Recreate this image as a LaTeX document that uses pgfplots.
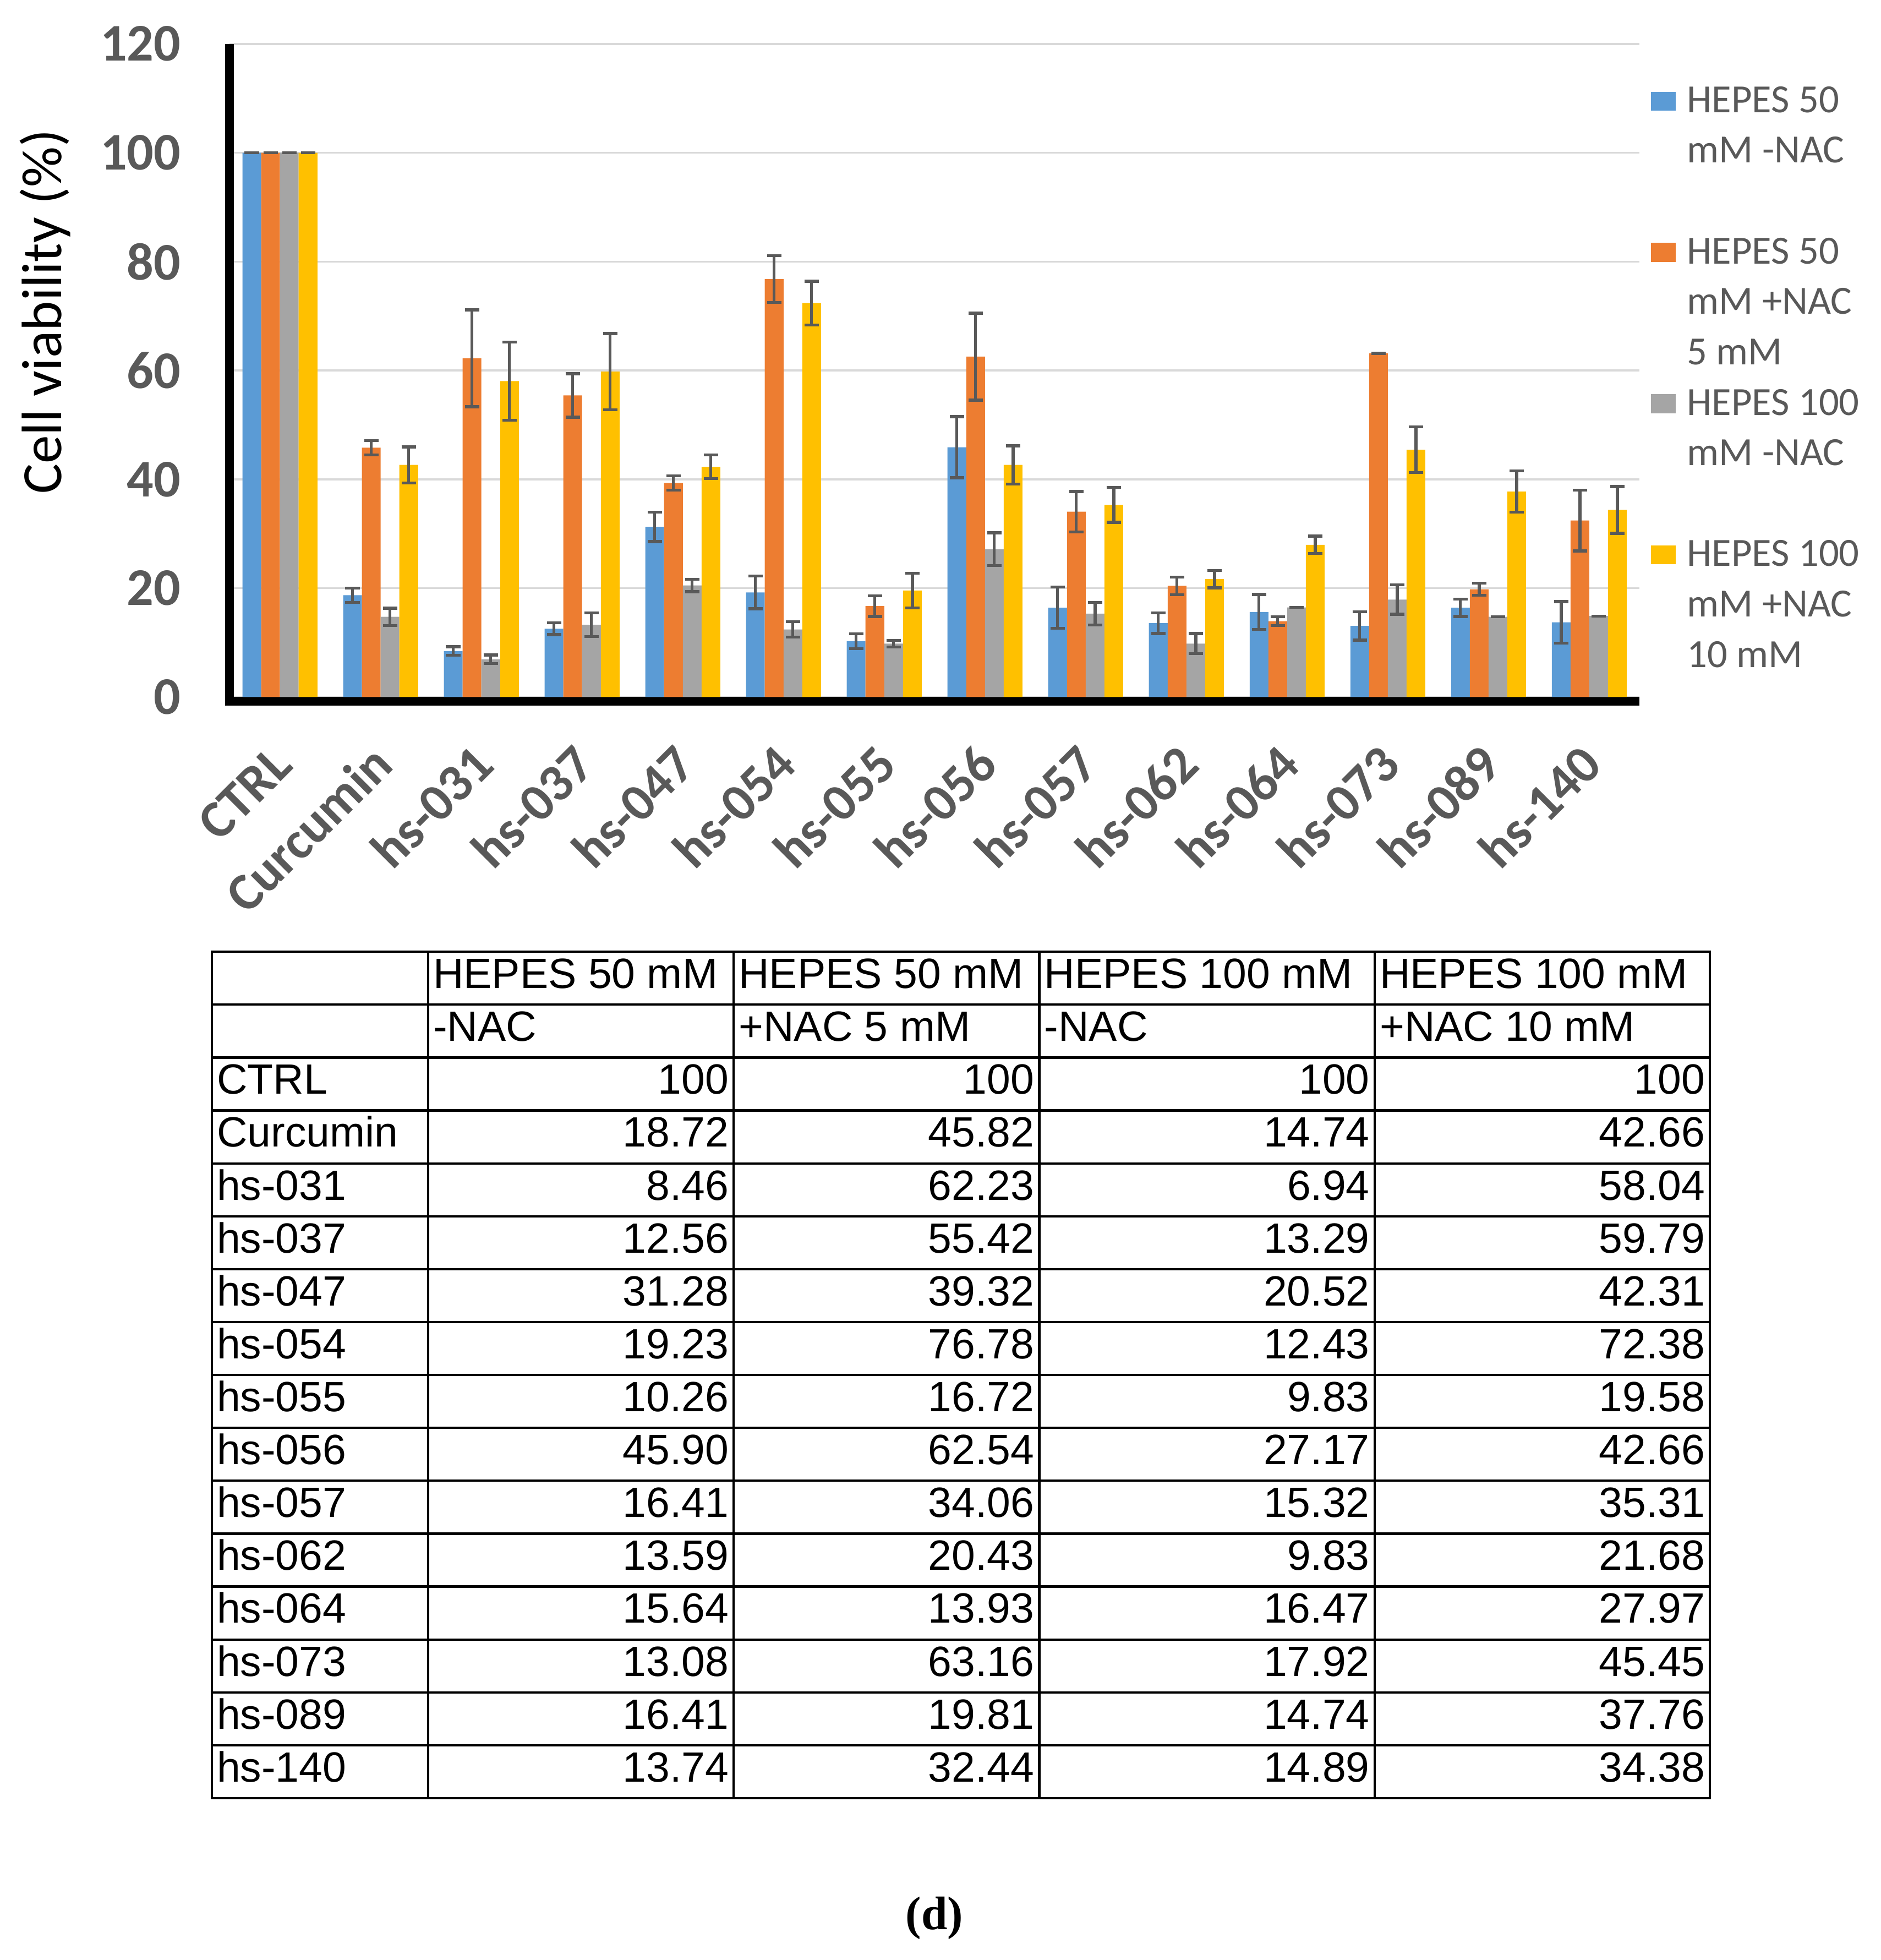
\documentclass[border=0pt]{standalone}
\usepackage{pgfplots}
\usepackage{pgfplotstable}
\usepackage{array}
\usepackage{fontspec}
\pgfplotsset{compat=1.18}
\setmainfont{Carlito}
\newfontfamily\tablefont{Liberation Sans}
\newfontfamily\capfont{Liberation Serif}
\definecolor{cblue}{HTML}{5B9BD5}
\definecolor{corange}{HTML}{ED7D31}
\definecolor{cgray}{HTML}{A5A5A5}
\definecolor{cyellow}{HTML}{FFC000}
\definecolor{tickgray}{HTML}{595959}
\definecolor{gridgray}{HTML}{D9D9D9}
\definecolor{errgray}{HTML}{595959}

\pgfplotstableread{
name a b c d ea eb ec ed
CTRL 100 100 100 100 0 0 0 0
Curcumin 18.72 45.82 14.74 42.66 1.3 1.3 1.6 3.3
hs-031 8.46 62.23 6.94 58.04 0.8 8.9 0.8 7.2
hs-037 12.56 55.42 13.29 59.79 1.1 4.0 2.2 7.0
hs-047 31.28 39.32 20.52 42.31 2.7 1.3 1.15 2.2
hs-054 19.23 76.78 12.43 72.38 3.0 4.3 1.4 4.0
hs-055 10.26 16.72 9.83 19.58 1.35 1.9 0.6 3.2
hs-056 45.90 62.54 27.17 42.66 5.6 8.0 3.0 3.5
hs-057 16.41 34.06 15.32 35.31 3.8 3.7 2.1 3.2
hs-062 13.59 20.43 9.83 21.68 1.9 1.6 1.85 1.6
hs-064 15.64 13.93 16.47 27.97 3.2 0.8 0 1.6
hs-073 13.08 63.16 17.92 45.45 2.6 0 2.7 4.2
hs-089 16.41 19.81 14.74 37.76 1.6 1.1 0 3.8
hs-140 13.74 32.44 14.89 34.38 3.8 5.6 0 4.3
}\datatable

\pgfplotsset{
  swatch/.style={legend image code/.code={%
    \fill[#1, draw=none] (0pt,0.5pt) rectangle (6.3pt,5.3pt);
    \path[draw=none, fill=none] (0pt,0pt) -- (9.2pt,0pt);}},
  noswatch/.style={legend image code/.code={\path[draw=none, fill=none] (0pt,0pt) -- (9.2pt,0pt);}},
}

\begin{document}
\begin{tikzpicture}
\useasboundingbox (-58.6pt,-322.3pt) rectangle (421.4pt,177.9pt);
\begin{axis}[
  at={(0pt,0pt)}, anchor=south west,
  width=359.9pt, height=166.7pt, scale only axis,
  ybar=0pt, bar width=0.186,
  xmin=-0.5, xmax=13.5, ymin=0, ymax=120,
  ytick={0,20,...,120},
  xtick={0,...,13},
  xticklabels from table={\datatable}{name},
  axis x line*=bottom, axis y line*=left,
  x axis line style={-, line width=2.2pt, black, yshift=-1.1pt, shorten <=-1.1pt},
  y axis line style={-, line width=2.2pt, black},
  major tick length=0pt,
  ymajorgrids, grid style={draw=gridgray, line width=0.5pt},
  /pgf/number format/assume math mode=true,
  yticklabel style={font=\fontsize{13.5}{16}\selectfont\bfseries, text=tickgray, anchor=east, inner sep=0pt, xshift=-12.3pt},
  xticklabel style={font=\fontsize{13.5}{16}\selectfont\bfseries, text=tickgray, xshift=3.9pt, yshift=-17.9pt, rotate=45, anchor=base east, inner sep=0pt},
  ylabel={Cell viability (\%)},
  every axis y label/.style={at={(axis description cs:-0.1306,0.59)}, rotate=90, anchor=center, font=\fontsize{14.5}{17}\selectfont},
  error bars/y dir=both, error bars/y explicit,
  error bars/error bar style={line width=0.75pt, draw=errgray},
  error bars/error mark options={rotate=90, line width=0.75pt, draw=errgray, mark size=1.85pt},
  legend style={at={(1,1)}, anchor=north west, xshift=2.9pt, yshift=-8.5pt,
    draw=none, fill=none, inner sep=0pt, outer sep=0pt, row sep=0pt, column sep=0pt,
    cells={anchor=base west, nodes={anchor=base west, inner sep=0pt, outer sep=0pt, text height=9pt, text depth=3.87pt}},
    font=\fontsize{10.2}{12.6}\selectfont, text=tickgray},
]
\addplot[fill=cblue, draw=none, bar shift=-0.279, swatch={fill=cblue}] table[x expr=\coordindex, y=a, y error=ea]{\datatable};
\addlegendentry{HEPES 50}
\addlegendimage{noswatch}
\addlegendentry{mM -NAC}
\addlegendimage{noswatch}
\addlegendentry{}
\addplot[fill=corange, draw=none, bar shift=-0.093, swatch={fill=corange}] table[x expr=\coordindex, y=b, y error=eb]{\datatable};
\addlegendentry{HEPES 50}
\addlegendimage{noswatch}
\addlegendentry{mM +NAC}
\addlegendimage{noswatch}
\addlegendentry{5 mM}
\addplot[fill=cgray, draw=none, bar shift=0.093, swatch={fill=cgray}] table[x expr=\coordindex, y=c, y error=ec]{\datatable};
\addlegendentry{HEPES 100}
\addlegendimage{noswatch}
\addlegendentry{mM -NAC}
\addlegendimage{noswatch}
\addlegendentry{}
\addplot[fill=cyellow, draw=none, bar shift=0.279, swatch={fill=cyellow}] table[x expr=\coordindex, y=d, y error=ed]{\datatable};
\addlegendentry{HEPES 100}
\addlegendimage{noswatch}
\addlegendentry{mM +NAC}
\addlegendimage{noswatch}
\addlegendentry{10 mM}
\end{axis}
\node[anchor=north west, inner sep=0pt, outer sep=0pt] at (-4.83pt,-64.7pt) {%
  \tablefont\fontsize{10.8}{12.9}\selectfont
  \setlength{\tabcolsep}{1pt}%
  \setlength{\arrayrulewidth}{0.6pt}%
  \pgfplotstabletypeset[
    columns={name,a,b,c,d},
    columns/name/.style={string type, column type={|>{\raggedright\arraybackslash}p{52.6pt}}},
    columns/a/.style={string type, column type={|>{\raggedleft\arraybackslash}p{75.4pt}}},
    columns/b/.style={string type, column type={|>{\raggedleft\arraybackslash}p{75.4pt}}},
    columns/c/.style={string type, column type={|>{\raggedleft\arraybackslash}p{83.0pt}}},
    columns/d/.style={string type, column type={|>{\raggedleft\arraybackslash}p{83.0pt}|}},
    every head row/.style={output empty row, before row={\hline
      & \multicolumn{1}{l|}{HEPES 50 mM} & \multicolumn{1}{l|}{HEPES 50 mM} & \multicolumn{1}{l|}{HEPES 100 mM} & \multicolumn{1}{l|}{HEPES 100 mM}\\\hline
      & \multicolumn{1}{l|}{-NAC} & \multicolumn{1}{l|}{+NAC 5 mM} & \multicolumn{1}{l|}{-NAC} & \multicolumn{1}{l|}{+NAC 10 mM}\\\hline}},
    every even row/.style={after row=\hline},
    every odd row/.style={after row=\hline},
  ]\datatable};
\node[font=\capfont\bfseries\fontsize{12}{14}\selectfont, anchor=center, inner sep=0pt] at (179.9pt,-311.6pt) {(d)};
\end{tikzpicture}
\end{document}
